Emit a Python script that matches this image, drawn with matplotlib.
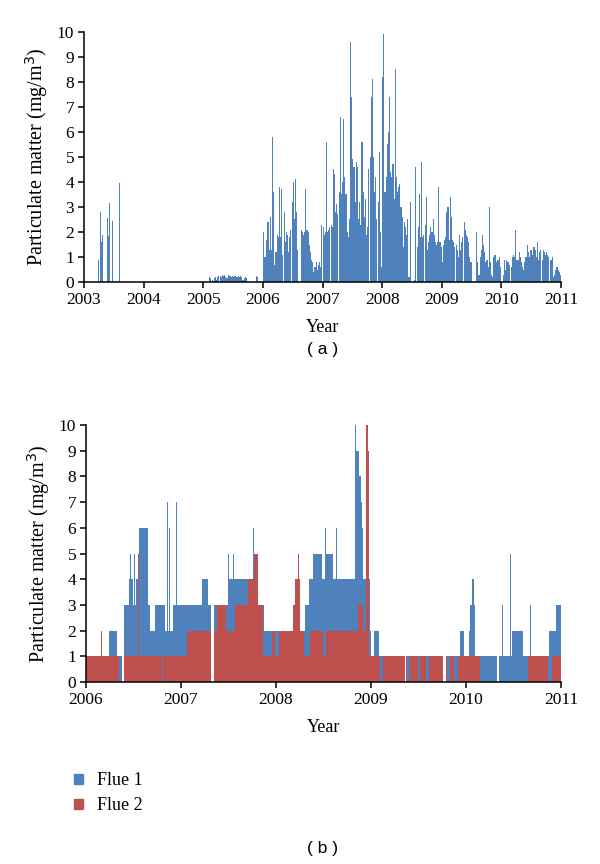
import matplotlib
matplotlib.use('Agg')

import matplotlib.pyplot as plt
from matplotlib.patches import Patch
import numpy as np

BLUE = '#4f81bd'
RED = '#c0504d'
SERIF = ['Liberation Serif', 'DejaVu Serif']
SANS = ['Liberation Sans', 'DejaVu Sans']

# ---- panel (a): particulate matter, 2003-2011 ----
# sparse readings in 2003
dates_2003 = [2003.153, 2003.220, 2003.243, 2003.266, 2003.282, 2003.299, 2003.316,
              2003.367, 2003.390, 2003.407, 2003.424, 2003.452, 2003.475, 2003.571, 2003.593]
pm_2003 = [1.75, 3.4, 0.9, 0.25, 2.8, 1.6, 1.9, 2.1, 2.55, 1.85, 3.15, 3.3, 2.45, 3.05, 3.95]

# weekly readings from 2005.10
start_2005 = 2005.10
pm_2005 = [0.2, 0.15, 0.1, 0.05, 0.15, 0.2, 0.1, 0.2, 0.25, 0.25, 0.2, 0.3, 0.25, 0.3,
           0.2, 0.15, 0.3, 0.25, 0.25, 0.2, 0.25, 0.2, 0.25, 0.2, 0.2, 0.25, 0.2, 0.25,
           0.2, 0.1, 0.15, 0.2, 0.15, 0.05]
dates_2005_late = [2005.83, 2005.87, 2005.89, 2005.91]
pm_2005_late = [0.05, 0.3, 0.25, 0.2]

# weekly readings 2006-2010 (52 per year)
pm_2006 = [2.0, 1.0, 1.0, 1.7, 2.4, 1.3, 2.6, 1.3, 5.8, 3.6, 0.7, 1.2, 1.9, 1.8, 3.8, 1.8,
           3.7, 1.1, 2.8, 1.6, 2.0, 1.9, 1.2, 1.8, 2.1, 3.2, 4.0, 2.5, 4.1, 2.8, 1.3, 0.0,
           0.0, 2.1, 2.0, 1.9, 2.0, 3.7, 2.1, 2.0, 1.5, 1.2, 0.9, 0.8, 0.4, 0.6, 0.8, 0.5,
           0.7, 0.8, 0.6, 2.3]
pm_2007 = [2.2, 1.9, 2.0, 5.6, 2.0, 2.1, 2.2, 2.3, 2.2, 4.5, 4.3, 2.8, 3.1, 2.7, 3.6, 6.6,
           3.5, 4.0, 6.5, 4.2, 3.5, 2.0, 1.8, 2.5, 9.6, 7.4, 4.9, 4.6, 3.2, 4.8, 4.6, 2.5,
           3.2, 2.3, 5.6, 3.6, 2.6, 3.3, 1.9, 2.2, 4.5, 5.0, 7.4, 8.1, 5.0, 3.6, 4.2, 2.5,
           3.2, 5.2, 2.0, 0.6]
pm_2008 = [8.2, 9.9, 3.6, 4.2, 5.5, 6.0, 7.4, 4.4, 4.2, 4.7, 3.3, 8.5, 4.2, 3.6, 3.8, 3.9,
           3.0, 2.6, 1.4, 2.4, 2.2, 1.9, 2.5, 0.2, 3.2, 0.0, 0.0, 0.0, 0.1, 4.6, 1.4, 2.2,
           3.5, 1.8, 4.8, 1.8, 1.9, 2.3, 3.4, 1.3, 1.6, 1.9, 2.2, 2.0, 2.5, 1.9, 1.6, 1.5,
           1.6, 3.8, 1.6, 1.4]
pm_2009 = [0.8, 1.5, 1.7, 1.8, 2.8, 3.0, 1.7, 3.4, 2.6, 1.7, 1.6, 1.4, 1.5, 1.3, 1.0, 1.9,
           1.3, 1.6, 1.8, 2.4, 2.1, 1.9, 1.8, 1.6, 1.0, 0.8, 0.0, 0.0, 0.0, 0.0, 2.0, 0.8,
           0.3, 1.0, 1.3, 1.9, 1.5, 1.2, 0.8, 0.9, 0.6, 3.0, 0.8, 0.3, 0.2, 1.0, 1.1, 0.8,
           0.9, 0.9, 1.0, 0.6]
pm_2010 = [0.0, 0.3, 0.9, 0.5, 0.9, 0.8, 0.8, 0.7, 0.6, 1.0, 1.1, 1.0, 2.1, 0.9, 0.9, 1.2,
           1.0, 0.8, 0.6, 0.5, 0.8, 1.0, 1.5, 1.2, 1.0, 1.3, 1.3, 1.1, 1.4, 1.3, 1.0, 1.6,
           0.9, 1.2, 1.3, 0.9, 1.3, 1.2, 1.1, 1.2, 1.1, 1.0, 0.9, 0.9, 1.0, 0.2, 0.3, 0.5,
           0.6, 0.5, 0.4, 0.3]
weekly_years = [2006, 2007, 2008, 2009, 2010]
weekly_pm = [pm_2006, pm_2007, pm_2008, pm_2009, pm_2010]

# ---- panel (b): two flues, 2006-2011 (step changes + single-day spikes) ----
flue1_start = [2006.000, 2006.240, 2006.330, 2006.375, 2006.405, 2006.450, 2006.500,
               2006.530, 2006.560, 2006.650, 2006.670, 2006.730, 2006.795, 2006.805,
               2006.830, 2006.920, 2007.220, 2007.280, 2007.320, 2007.345, 2007.490,
               2007.760, 2007.870, 2008.270, 2008.310, 2008.350, 2008.390, 2008.480,
               2008.520, 2008.600, 2008.835, 2008.877, 2008.891, 2008.902, 2008.912,
               2008.940, 2008.990, 2009.000, 2009.030, 2009.080, 2009.100, 2009.355,
               2009.365, 2009.760, 2009.790, 2009.940, 2009.980, 2010.030, 2010.045,
               2010.060, 2010.080, 2010.090, 2010.330, 2010.350, 2010.480, 2010.600,
               2010.870, 2010.950]
flue1_level = [1, 2, 1, 0, 3, 4, 3,
               4, 6, 3, 2, 3, 0, 3,
               2, 3, 4, 3, 0, 3, 4,
               3, 2, 2, 3, 4, 5, 4,
               5, 4, 9, 8, 7, 6, 4,
               4, 2, 1, 2, 1, 1, 0,
               1, 0, 1, 2, 1, 2, 3,
               4, 3, 1, 0, 1, 2, 1,
               2, 3]
flue1_spike_x = [2006.470, 2006.510, 2006.580, 2006.620, 2006.860, 2006.880, 2006.950,
                 2007.030, 2007.347, 2007.500, 2007.555, 2007.760, 2008.320, 2008.520,
                 2008.640, 2008.836, 2009.200, 2010.115, 2010.386, 2010.470, 2010.680]
flue1_spike_y = [5, 5, 9, 7, 7, 6, 7, 5, 6, 5, 5, 6, 3, 6, 6, 10, 3, 2, 3, 5, 3]

flue2_start = [2006.000, 2006.350, 2006.405, 2006.800, 2006.815, 2007.060, 2007.320,
               2007.345, 2007.380, 2007.470, 2007.570, 2007.710, 2007.765, 2007.810,
               2007.860, 2007.960, 2007.990, 2008.030, 2008.180, 2008.200, 2008.250,
               2008.290, 2008.360, 2008.500, 2008.530, 2008.860, 2008.920, 2008.950,
               2008.965, 2008.975, 2009.100, 2009.130, 2009.355, 2009.365, 2009.380,
               2009.410, 2009.500, 2009.520, 2009.580, 2009.610, 2009.760, 2009.790,
               2009.800, 2009.830, 2009.870, 2009.920, 2010.150, 2010.650, 2010.860,
               2010.910]
flue2_level = [1, 0, 1, 0, 1, 2, 0,
               2, 3, 2, 3, 4, 5, 3,
               1, 2, 1, 2, 3, 4, 2,
               1, 2, 1, 2, 3, 2, 10,
               9, 1, 0, 1, 0, 1, 0,
               1, 0, 1, 0, 1, 0, 1,
               0, 1, 0, 1, 0, 1, 0,
               1]
flue2_spike_x = [2006.010, 2006.160, 2006.550, 2008.236, 2010.770]
flue2_spike_y = [2, 2, 5, 5, 3]

plt.rcParams['font.family'] = SERIF

fig = plt.figure(figsize=(6, 8.64), dpi=100)


def style_axes(ax, x0, x1):
    ax.set_xlim(x0, x1)
    ax.set_ylim(0, 10)
    ax.set_xticks(range(x0, x1 + 1))
    ax.set_yticks(range(0, 11))
    for side in ('top', 'right'):
        ax.spines[side].set_visible(False)
    for side in ('left', 'bottom'):
        ax.spines[side].set_linewidth(1.1)
    ax.tick_params(direction='out', length=4, width=1.1, labelsize=12.5, pad=3)
    ax.set_ylabel('Particulate matter (mg/m$^3$)', fontsize=14.5, labelpad=5)
    ax.set_xlabel('Year', fontsize=13, labelpad=8)


# panel (a)
ax1 = fig.add_axes([0.140, 0.6736, 0.795, 0.2894])
ax1.bar(dates_2003, pm_2003, width=0.012, align='center', color=BLUE, linewidth=0)
ax1.bar(start_2005 + np.arange(len(pm_2005)) / 52, pm_2005, width=0.95 / 52,
        align='edge', color=BLUE, linewidth=0)
ax1.bar(dates_2005_late, pm_2005_late, width=0.012, color=BLUE, linewidth=0)
for yr, vals in zip(weekly_years, weekly_pm):
    ax1.bar(yr + np.arange(len(vals)) / 52, vals, width=0.95 / 52, align='edge',
            color=BLUE, linewidth=0)
style_axes(ax1, 2003, 2011)

# panel (b)
ax2 = fig.add_axes([0.1433, 0.2106, 0.7917, 0.2975])
ax2.stairs(flue1_level, flue1_start + [2011.0], fill=True, color=BLUE, linewidth=0)
ax2.bar(flue1_spike_x, flue1_spike_y, width=0.007, color=BLUE, linewidth=0)
ax2.stairs(flue2_level, flue2_start + [2011.0], fill=True, color=RED, linewidth=0)
ax2.bar(flue2_spike_x, flue2_spike_y, width=0.007, color=RED, linewidth=0)
style_axes(ax2, 2006, 2011)

fig.text(0.538, 0.595, '( a )', ha='center', va='center', fontsize=12.5, family=SANS)
fig.text(0.538, 0.0185, '( b )', ha='center', va='center', fontsize=12.5, family=SANS)

handles = [Patch(color=BLUE), Patch(color=RED)]
fig.legend(handles, ['Flue 1', 'Flue 2'], loc='upper left', bbox_to_anchor=(0.097, 0.125),
           frameon=False, fontsize=13, handlelength=0.45, handleheight=0.45,
           handletextpad=0.8, labelspacing=0.45)

plt.savefig('out.png', dpi=100)
